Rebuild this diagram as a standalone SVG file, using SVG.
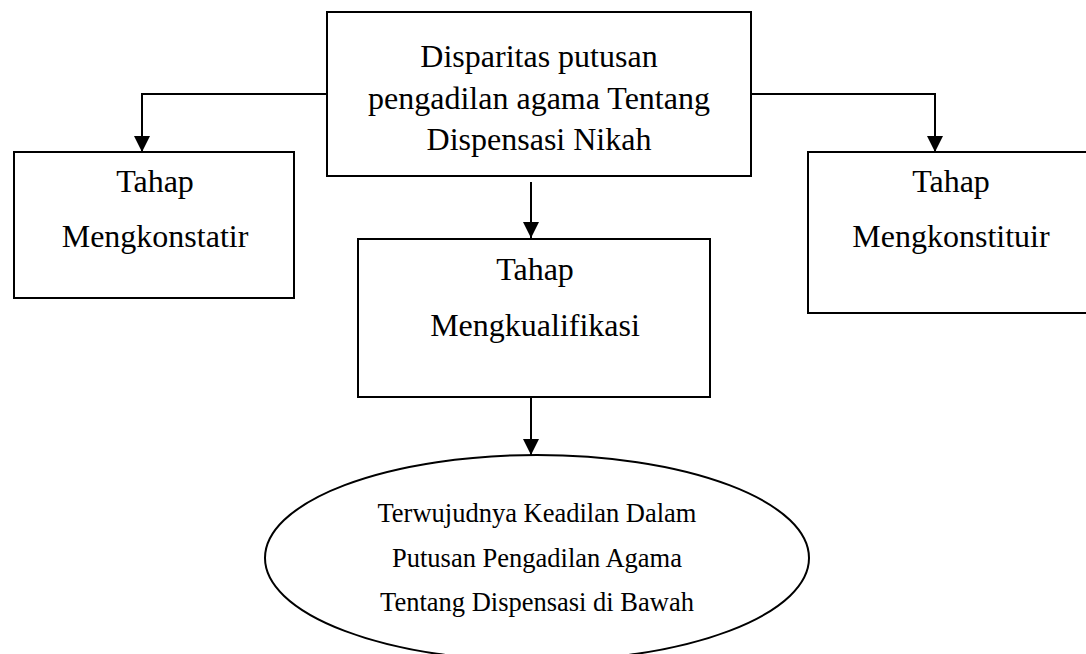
<svg xmlns="http://www.w3.org/2000/svg" width="1086" height="654" viewBox="0 0 1086 654">
<defs>
<style>
.box{fill:#fff;stroke:#000;stroke-width:2}
.t{font-family:"Liberation Serif","Times New Roman",serif;font-size:32px;fill:#000;text-anchor:middle}
.s{font-family:"Liberation Serif","Times New Roman",serif;font-size:26.5px;fill:#000;text-anchor:middle}
.c{fill:none;stroke:#000;stroke-width:2}
</style>
<marker id="arr" viewBox="0 0 16 16" markerWidth="16" markerHeight="16" refX="16" refY="8" orient="auto" markerUnits="userSpaceOnUse">
<path d="M0,0 L16,8 L0,16 Z" fill="#000"/>
</marker>
</defs>
<rect width="1086" height="654" fill="#fff"/>
<g id="connectors">
<path class="c" d="M327,94 H142 V152" marker-end="url(#arr)"/>
<path class="c" d="M751,94 H935 V152" marker-end="url(#arr)"/>
<path class="c" d="M531,182 V238" marker-end="url(#arr)"/>
<path class="c" d="M531,397 V455" marker-end="url(#arr)"/>
</g>
<g id="top">
<rect class="box" x="327" y="12" width="424" height="164"/>
<text class="t" x="539" y="67">Disparitas putusan</text>
<text class="t" x="539" y="109">pengadilan agama Tentang</text>
<text class="t" x="539" y="150">Dispensasi Nikah</text>
</g>
<g id="left">
<rect class="box" x="14" y="152" width="280" height="146"/>
<text class="t" x="155" y="192">Tahap</text>
<text class="t" x="155" y="247">Mengkonstatir</text>
</g>
<g id="middle">
<rect class="box" x="358" y="239" width="352" height="158"/>
<text class="t" x="535" y="280">Tahap</text>
<text class="t" x="535" y="336">Mengkualifikasi</text>
</g>
<g id="right">
<rect class="box" x="808" y="152" width="290" height="161"/>
<text class="t" x="951" y="192">Tahap</text>
<text class="t" x="951" y="247">Mengkonstituir</text>
</g>
<g id="result">
<ellipse class="box" cx="537" cy="558" rx="272" ry="103"/>
<text class="s" x="537" y="522">Terwujudnya Keadilan Dalam</text>
<text class="s" x="537" y="567">Putusan Pengadilan Agama</text>
<text class="s" x="537" y="611">Tentang Dispensasi di Bawah</text>
</g>
</svg>
